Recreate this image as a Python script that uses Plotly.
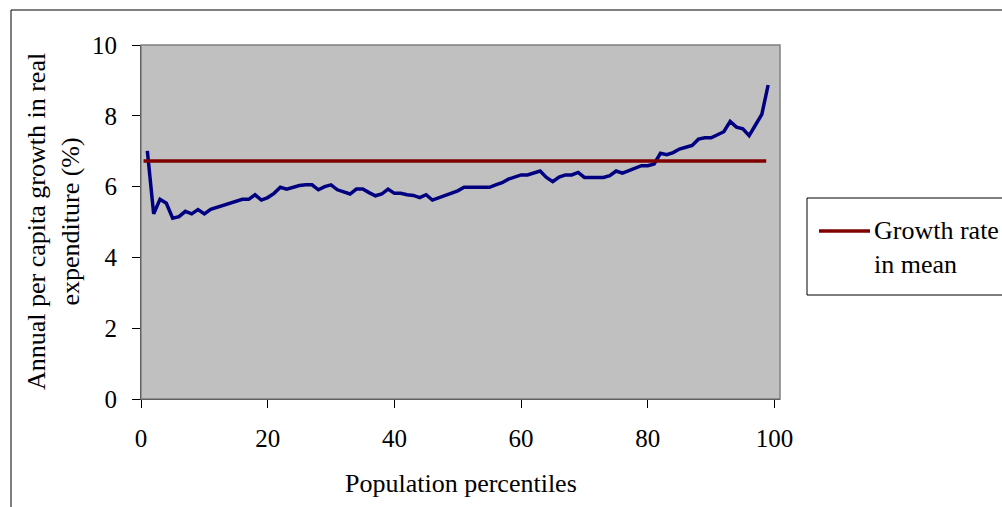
import plotly.graph_objects as go

# ---------------- data ----------------
percentiles = list(range(1, 100))
growth = [
    7.01, 5.23, 5.64, 5.53, 5.11, 5.15, 5.30, 5.23, 5.35, 5.23,
    5.36, 5.42, 5.47, 5.53, 5.60, 5.64, 5.64, 5.77, 5.62, 5.69,
    5.81, 5.98, 5.93, 5.98, 6.03, 6.05, 6.05, 5.91, 6.00, 6.05,
    5.91, 5.85, 5.79, 5.93, 5.93, 5.83, 5.74, 5.79, 5.93, 5.81,
    5.81, 5.77, 5.75, 5.69, 5.77, 5.62, 5.69, 5.75, 5.81, 5.88,
    5.98, 5.98, 5.98, 5.98, 5.98, 6.05, 6.11, 6.21, 6.27, 6.33,
    6.33, 6.38, 6.44, 6.26, 6.14, 6.27, 6.33, 6.33, 6.40, 6.26,
    6.26, 6.26, 6.26, 6.31, 6.44, 6.38, 6.45, 6.54, 6.59, 6.59,
    6.64, 6.94, 6.90, 6.96, 7.06, 7.11, 7.16, 7.34, 7.38, 7.38,
    7.46, 7.55, 7.84, 7.68, 7.63, 7.44, 7.74, 8.04, 8.87,
]
mean_x = [0.4, 98.7]
mean_growth = [6.72, 6.72]

x_ticks = [0, 20, 40, 60, 80, 100]
y_ticks = [0, 2, 4, 6, 8, 10]

x_title = "Population percentiles"
y_title = "Annual per capita growth in real<br>expenditure (%)"
legend_label = "Growth rate<br>in mean"

NAVY = "#000080"
MAROON = "#800000"
FONT = "Liberation Serif, Times New Roman, serif"

fig = go.Figure()
fig.add_trace(go.Scatter(x=percentiles, y=growth, mode="lines",
                         line=dict(color=NAVY, width=3.5),
                         name="Growth incidence", showlegend=False,
                         cliponaxis=False))
fig.add_trace(go.Scatter(x=mean_x, y=mean_growth, mode="lines",
                         line=dict(color=MAROON, width=3.5),
                         name="Growth rate in mean", showlegend=False,
                         cliponaxis=False))

# pixel -> paper helpers for plot-area geometry (plot area: x 141..780, y 45..399)
L, R, T, B = 141, 780, 45, 399
def px(xp):
    return (xp - L) / (R - L)
def py(yp):
    return (B - yp) / (B - T)

shapes = [
    # outer chart frame
    dict(type="rect", xref="paper", yref="paper",
         x0=px(11), x1=px(1030), y0=py(10), y1=py(540),
         line=dict(color="#000000", width=1), fillcolor="rgba(0,0,0,0)", layer="below"),
    # plot-area border
    dict(type="rect", xref="paper", yref="paper",
         x0=0, x1=1, y0=0, y1=1,
         line=dict(color="#808080", width=1.5), fillcolor="rgba(0,0,0,0)", layer="above"),
    # legend box
    dict(type="rect", xref="paper", yref="paper",
         x0=px(807), x1=px(1030), y0=py(295), y1=py(198),
         line=dict(color="#000000", width=1), fillcolor="white"),
    # legend line sample
    dict(type="line", xref="paper", yref="paper",
         x0=px(819), x1=px(870), y0=py(231), y1=py(231),
         line=dict(color=MAROON, width=3.5)),
]

annotations = [
    dict(text=y_title, xref="paper", yref="paper", x=px(53), y=0.5,
         xanchor="center", yanchor="middle", textangle=-90, showarrow=False,
         font=dict(family=FONT, size=26, color="black"), align="center"),
    dict(text=x_title, xref="paper", yref="paper", x=0.5, y=py(483),
         xanchor="center", yanchor="middle", showarrow=False,
         font=dict(family=FONT, size=26, color="black")),
    dict(text=legend_label, xref="paper", yref="paper", x=px(872), y=py(247),
         xanchor="left", yanchor="middle", showarrow=False, align="left",
         font=dict(family=FONT, size=26, color="black")),
]

fig.update_layout(
    width=1002, height=507,
    margin=dict(l=L, r=1002 - R, t=T, b=507 - B, pad=0),
    paper_bgcolor="white",
    plot_bgcolor="#C0C0C0",
    font=dict(family=FONT, size=25, color="black"),
    showlegend=False,
    shapes=shapes,
    annotations=annotations,
    xaxis=dict(range=[0, 100.87], tickmode="array", tickvals=x_ticks,
               ticks="outside", ticklen=8, tickwidth=1, tickcolor="black",
               showline=True, linecolor="black", linewidth=1,
               showgrid=False, zeroline=False, ticklabelstandoff=9,
               tickfont=dict(family=FONT, size=25, color="black")),
    yaxis=dict(range=[0, 10], tickmode="array", tickvals=y_ticks,
               ticks="outside", ticklen=8, tickwidth=1, tickcolor="black",
               showline=True, linecolor="black", linewidth=1,
               showgrid=False, zeroline=False, ticklabelstandoff=10,
               tickfont=dict(family=FONT, size=25, color="black")),
)

fig.write_html("out.html")
